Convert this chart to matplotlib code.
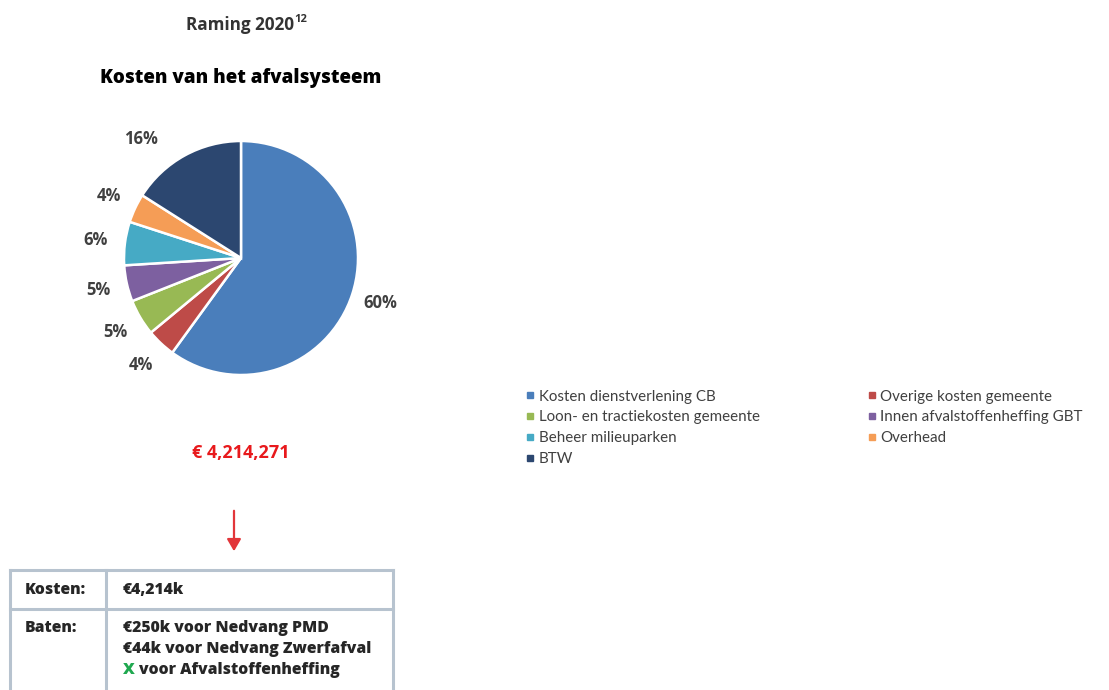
import matplotlib
matplotlib.use("Agg")
import matplotlib.pyplot as plt
from matplotlib.lines import Line2D
from matplotlib.patches import FancyArrowPatch
import numpy as np

categories = ["Kosten dienstverlening CB", "Overige kosten gemeente",
              "Loon- en tractiekosten gemeente", "Innen afvalstoffenheffing GBT",
              "Beheer milieuparken", "Overhead", "BTW"]
shares = [60, 4, 5, 5, 6, 4, 16]
colors = ["#4A7EBB", "#BE4B48", "#98B954", "#7D60A0", "#46AAC5", "#F59D56", "#2C4770"]
title = "Raming 2020"
title_sup = "12"
subtitle = "Kosten van het afvalsysteem"
total_text = "€ 4,214,271"
table_rows = [("Kosten:", ["€4,214k"]),
              ("Baten:", ["€250k voor Nedvang PMD", "€44k voor Nedvang Zwerfafval", "X voor Afvalstoffenheffing"])]

W, H = 1109, 690
fig = plt.figure(figsize=(W / 100, H / 100), dpi=100)
plt.rcParams['font.family'] = ['Lato', 'DejaVu Sans']
BOLD = ['Open Sans', 'DejaVu Sans']

def fx(x): return x / W
def fy(y): return 1 - y / H

# pie axes: center (241,258), radius 117 px
cx, cy, r, k = 241, 258, 117, 1.6
side = 2 * r * k
ax = fig.add_axes([fx(cx - side / 2), fy(cy + side / 2), side / W, side / H])
wedges, _ = ax.pie(shares, colors=colors, startangle=90, counterclock=False,
                   radius=1, wedgeprops=dict(edgecolor="white", linewidth=1.8))
ax.set_xlim(-k, k)
ax.set_ylim(-k, k)
ax.set_aspect("equal")
ax.axis("off")

for i, (w, s) in enumerate(zip(wedges, shares)):
    ang = np.deg2rad((w.theta1 + w.theta2) / 2)
    d = 1.25
    if i == len(shares) - 1:
        ang = np.deg2rad(130)
        d = 1.33
    ax.text(d * np.cos(ang), d * np.sin(ang), f"{s}%", ha="center", va="center",
            fontsize=12, fontweight="bold", color="#404040", family=BOLD)

t = fig.text(fx(186), fy(25), title, ha="left", va="center", fontsize=12.3,
             fontweight="bold", color="#333333", family=BOLD)
fig.canvas.draw()
bb = t.get_window_extent()
fig.text(bb.x1 / W, fy(20), title_sup, ha="left", va="center", fontsize=8,
         fontweight="bold", color="#333333", family=BOLD)
fig.text(fx(241), fy(78), subtitle, ha="center", va="center", fontsize=13.5,
         fontweight="heavy", color="black", family=BOLD)

# legend
order = [0, 2, 4, 6, 1, 3, 5]
handles = [Line2D([], [], marker="s", linestyle="none", markersize=4.5,
                  color=colors[i]) for i in order]
labels = [categories[i] for i in order]
fig.legend(handles, labels, ncol=2, loc="upper left",
           bbox_to_anchor=(fx(513), fy(376)), frameon=False, fontsize=10.9,
           handlelength=0.5, handletextpad=0.3, columnspacing=7.15,
           labelspacing=0.45, labelcolor="#404040")

fig.text(fx(241), fy(453), total_text, ha="center", va="center", fontsize=13,
         fontweight="bold", color="#E8191C", family=BOLD)

arrow = FancyArrowPatch((fx(234), fy(508)), (fx(234), fy(554)), transform=fig.transFigure,
                        arrowstyle="-|>,head_length=6,head_width=3.5", color="#E2363A",
                        linewidth=1.6, mutation_scale=1.2)
fig.patches.append(arrow)

# table
border = "#B7C3CF"
L, R, T, B, Cd, Rd = 10, 393, 570, 700, 106, 609
for (x0, y0, x1, y1) in [(L, T, R, T), (L, Rd, R, Rd), (L, T, L, B), (R, T, R, B), (Cd, T, Cd, B)]:
    fig.add_artist(Line2D([fx(x0), fx(x1)], [fy(y0), fy(y1)], color=border, linewidth=2.2,
                          transform=fig.transFigure))
row_y = [590, 628]
fs = 11.3
for (head, lines), y in zip(table_rows, row_y):
    fig.text(fx(25), fy(y), head, ha="left", va="center", fontsize=fs,
             fontweight="heavy", color="#262626", family=BOLD)
    for j, ln in enumerate(lines):
        yy = y + j * 21
        if ln.startswith("X "):
            tx = fig.text(fx(123), fy(yy), "X", ha="left", va="center", fontsize=fs + 0.5,
                          fontweight="heavy", color="#1FA84F", family=BOLD)
            fig.canvas.draw()
            xb = tx.get_window_extent().x1
            fig.text(xb / W + 4 / W, fy(yy), ln[2:], ha="left", va="center", fontsize=fs,
                     fontweight="heavy", color="#262626", family=BOLD)
        else:
            fig.text(fx(123), fy(yy), ln, ha="left", va="center", fontsize=fs,
                     fontweight="heavy", color="#262626", family=BOLD)

fig.savefig("out.png", dpi=100, facecolor="white")
